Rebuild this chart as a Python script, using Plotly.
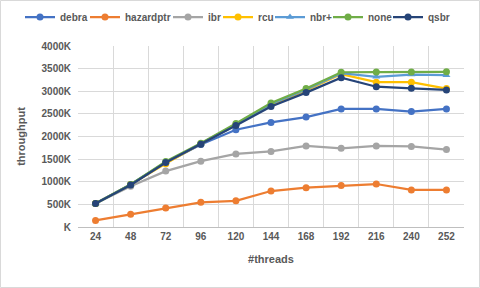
import plotly.graph_objects as go

threads = ["24", "48", "72", "96", "120", "144", "168", "192", "216", "240", "252"]
debra = [520, 940, 1420, 1825, 2150, 2310, 2430, 2610, 2610, 2550, 2610]
hazardptr = [145, 280, 420, 545, 580, 795, 870, 915, 950, 820, 820]
ibr = [520, 900, 1235, 1455, 1615, 1670, 1790, 1740, 1790, 1780, 1710]
rcu = [520, 940, 1400, 1840, 2260, 2700, 3020, 3380, 3200, 3200, 3060]
nbrp = [520, 940, 1430, 1840, 2270, 2720, 3040, 3400, 3320, 3370, 3355]
none = [520, 940, 1450, 1850, 2290, 2740, 3060, 3420, 3425, 3425, 3430]
qsbr = [520, 930, 1425, 1830, 2245, 2665, 2970, 3300, 3100, 3065, 3030]

series = [
    ("debra", debra, "#4472C4", "circle"),
    ("hazardptr", hazardptr, "#ED7D31", "circle"),
    ("ibr", ibr, "#A5A5A5", "circle"),
    ("rcu", rcu, "#FFC000", "circle"),
    ("nbr+", nbrp, "#5B9BD5", "triangle-up"),
    ("none", none, "#70AD47", "circle"),
    ("qsbr", qsbr, "#264478", "circle"),
]
# left pixel of each legend entry (one single-entry legend per series)
legend_left_px = [20, 85, 168, 218, 270, 328, 388]

yticks = [0, 500, 1000, 1500, 2000, 2500, 3000, 3500, 4000]
yticktext = ["K", "500K", "1000K", "1500K", "2000K", "2500K", "3000K", "3500K", "4000K"]

L, R, T, B = 78, 16, 46, 61
W, H = 480, 288
pw, ph = W - L - R, H - T - B
font_c = "#595959"

fig = go.Figure()
legend_layouts = {}
for i, (name, vals, color, sym) in enumerate(series):
    key = "legend" if i == 0 else f"legend{i + 1}"
    fig.add_trace(go.Scatter(
        x=threads, y=vals, name=name, mode="lines+markers",
        line=dict(color=color, width=2.25),
        marker=dict(color=color, size=7, symbol=sym),
        legend=key,
    ))
    legend_layouts[key] = dict(
        orientation="h", xref="container", x=legend_left_px[i] / W, xanchor="left",
        yref="container", y=1 - 17 / H, yanchor="middle",
        font=dict(size=10, color=font_c, weight="bold"), itemwidth=30,
        bgcolor="rgba(0,0,0,0)", borderwidth=0,
    )

fig.update_layout(
    width=W, height=H,
    margin=dict(l=L, r=R, t=T, b=B, autoexpand=False),
    paper_bgcolor="white", plot_bgcolor="white",
    font=dict(family="Liberation Sans, Arial, sans-serif", size=10, color=font_c),
    showlegend=True,
    xaxis=dict(type="category", range=[-0.5, 10.5], tickson="boundaries",
               showgrid=True, gridcolor="#D9D9D9", gridwidth=1,
               showline=True, linecolor="#BFBFBF", linewidth=1,
               ticks="", tickfont=dict(size=10, color=font_c, weight="bold"),
               automargin=False,
               title=dict(text="#threads", font=dict(size=11, color=font_c, weight="bold"), standoff=14)),
    yaxis=dict(range=[0, 4000], tickvals=yticks, ticktext=yticktext,
               showgrid=True, gridcolor="#D9D9D9", gridwidth=1,
               zeroline=False, showline=False, ticks="",
               tickfont=dict(size=10, color=font_c, weight="bold"),
               ticklabelstandoff=6, automargin=False,
               title=dict(text="throughput", font=dict(size=11, color=font_c, weight="bold"), standoff=13)),
    shapes=[dict(type="rect", xref="paper", yref="paper",
                 x0=(0.5 - L) / pw, x1=(W - 0.5 - L) / pw,
                 y0=(0.5 - B) / ph, y1=(H - B - 0.5) / ph,
                 line=dict(color="#D9D9D9", width=1), fillcolor="rgba(0,0,0,0)", layer="below")],
    **legend_layouts,
)

fig.write_html("out.html", config={"displayModeBar": False},
               post_script="document.body.style.margin='0';document.body.style.padding='0';")
